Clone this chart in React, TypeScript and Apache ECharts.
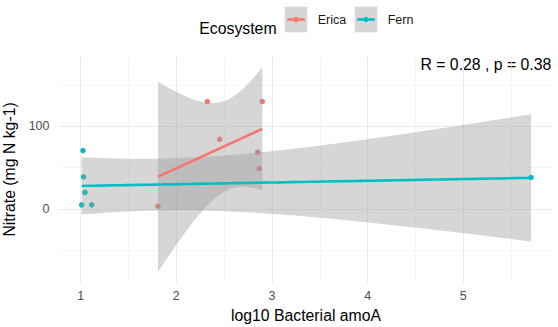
import React, { useEffect, useRef } from "react";
import * as echarts from "echarts";

// ---- data ----
const ericaX = [1.808, 2.324, 2.453, 2.851, 2.868, 2.899];
const ericaY = [3.6, 129.8, 84.3, 68.7, 49.0, 129.8];
const fernX = [1.024, 1.03, 1.045, 1.01, 1.115, 5.708];
const fernY = [70.7, 38.9, 20.1, 5.2, 5.2, 38.2];
const groups = ["Erica", "Fern"];
const xTicks = [1, 2, 3, 4, 5];
const xMinor = [1.5, 2.5, 3.5, 4.5, 5.5];
const yTicks = [0, 100];
const yMinor = [-50, 50, 150];
const annotation = "R = 0.28 , p = 0.38";
const legendTitle = "Ecosystem";
const xTitle = "log10 Bacterial amoA";
const yTitle = "Nitrate (mg N kg-1)";

// ---- styling ----
const COLORS = ["#F8766D", "#00BFC4"];
const FONT = "'Liberation Sans', Arial, sans-serif";
const T_975_DF4 = 2.7764; // t quantile for 95% CI, n = 6

// linear model fit + 95% confidence band (as geom_smooth(method = "lm"))
function lmBand(xs: number[], ys: number[], steps = 80) {
  const n = xs.length;
  const mx = xs.reduce((a, b) => a + b, 0) / n;
  const my = ys.reduce((a, b) => a + b, 0) / n;
  let sxx = 0;
  let sxy = 0;
  for (let i = 0; i < n; i++) {
    sxx += (xs[i] - mx) ** 2;
    sxy += (xs[i] - mx) * (ys[i] - my);
  }
  const slope = sxy / sxx;
  const icpt = my - slope * mx;
  let sse = 0;
  for (let i = 0; i < n; i++) sse += (ys[i] - (icpt + slope * xs[i])) ** 2;
  const s = Math.sqrt(sse / (n - 2));
  const x0 = Math.min(...xs);
  const x1 = Math.max(...xs);
  const fit: number[][] = [];
  const upper: number[][] = [];
  const lower: number[][] = [];
  for (let i = 0; i < steps; i++) {
    const x = x0 + ((x1 - x0) * i) / (steps - 1);
    const y = icpt + slope * x;
    const se = s * Math.sqrt(1 / n + (x - mx) ** 2 / sxx);
    fit.push([x, y]);
    upper.push([x, y + T_975_DF4 * se]);
    lower.push([x, y - T_975_DF4 * se]);
  }
  return { fit, upper, lower };
}

export default function App() {
  const ref = useRef<HTMLDivElement>(null);
  useEffect(() => {
    if (!ref.current) return;
    const chart = echarts.init(ref.current, null, { renderer: "svg" });
    const sets = [
      { x: ericaX, y: ericaY },
      { x: fernX, y: fernY },
    ];
    const bands = sets.map((s) => lmBand(s.x, s.y));

    const series: any[] = [];
    // gridlines
    series.push({
      type: "line",
      data: [],
      silent: true,
      z: 0,
      markLine: {
        silent: true,
        z: 0,
        symbol: "none",
        label: { show: false },
        animation: false,
        data: [
          ...xTicks.map((v) => ({ xAxis: v, lineStyle: { color: "#EBEBEB", width: 1.1, type: "solid" } })),
          ...xMinor.map((v) => ({ xAxis: v, lineStyle: { color: "#F0F0F0", width: 0.6, type: "solid" } })),
          ...yTicks.map((v) => ({ yAxis: v, lineStyle: { color: "#EBEBEB", width: 1.1, type: "solid" } })),
          ...yMinor.map((v) => ({ yAxis: v, lineStyle: { color: "#F0F0F0", width: 0.6, type: "solid" } })),
        ],
      },
    });
    // points
    sets.forEach((s, i) => {
      series.push({
        name: groups[i],
        type: "scatter",
        data: s.x.map((x, j) => [x, s.y[j]]),
        symbolSize: 5.5,
        itemStyle: { color: COLORS[i], opacity: 1 },
        z: 2,
        silent: true,
      });
    });
    // ribbons and lines
    bands.forEach((b, i) => {
      series.push({
        type: "custom",
        coordinateSystem: "cartesian2d",
        data: [[b.fit[0][0], b.fit[0][1]]],
        silent: true,
        z: 3,
        renderItem: (_p: any, api: any) => {
          const pts = [
            ...b.upper.map((p) => api.coord(p)),
            ...b.lower
              .slice()
              .reverse()
              .map((p) => api.coord(p)),
          ];
          return {
            type: "polygon",
            shape: { points: pts },
            style: { fill: "rgba(153,153,153,0.4)", stroke: "none" },
          };
        },
      });
      series.push({
        type: "line",
        data: b.fit,
        showSymbol: false,
        silent: true,
        z: 4,
        lineStyle: { color: COLORS[i], width: 2.6 },
      });
    });

    const keyW = 22.6;
    const keyH = 25.6;
    const keyTop = 6.7;
    const keyXs = [284.7, 354.7];
    const legendGraphics: any[] = [
      {
        type: "text",
        left: 199.3,
        top: 20.5,
        style: {
          text: legendTitle,
          font: `15.8px ${FONT}`,
          fill: "#000",
          verticalAlign: "middle",
        },
      },
    ];
    groups.forEach((g, i) => {
      const kx = keyXs[i];
      const cy = keyTop + keyH / 2;
      legendGraphics.push(
        {
          type: "rect",
          shape: { x: kx, y: keyTop, width: keyW, height: keyH },
          style: { fill: "#D6D6D6" },
        },
        {
          type: "line",
          shape: { x1: kx + 2.5, y1: cy, x2: kx + keyW - 2.5, y2: cy },
          style: { stroke: COLORS[i], lineWidth: 2.6 },
        },
        {
          type: "circle",
          shape: { cx: kx + keyW / 2, cy, r: 2.7 },
          style: { fill: COLORS[i] },
        },
        {
          type: "text",
          x: kx + keyW + 10.4,
          y: cy,
          style: {
            text: g,
            font: `12.5px ${FONT}`,
            fill: "#1A1A1A",
            verticalAlign: "middle",
            align: "left",
          },
        }
      );
    });

    chart.setOption({
      animation: false,
      backgroundColor: "#FFFFFF",
      grid: {
        left: 58.5,
        right: 4.5,
        top: 56.7,
        bottom: 44.8,
        containLabel: false,
        outerBoundsMode: "none",
      },
      xAxis: {
        type: "value",
        min: 0.768,
        max: 5.943,
        axisLine: { show: false },
        axisTick: { show: false },
        splitLine: { show: false },
        axisLabel: {
          customValues: xTicks,
          color: "#4D4D4D",
          fontSize: 12.5,
          fontFamily: FONT,
          margin: 7,
        },
        name: xTitle,
        nameLocation: "middle",
        nameGap: 23,
        nameTextStyle: { color: "#000", fontSize: 15.8, fontFamily: FONT },
      },
      yAxis: {
        type: "value",
        min: -88.1,
        max: 183.9,
        axisLine: { show: false },
        axisTick: { show: false },
        splitLine: { show: false },
        axisLabel: {
          customValues: yTicks,
          color: "#4D4D4D",
          fontSize: 12.5,
          fontFamily: FONT,
          margin: 9,
        },
        name: yTitle,
        nameLocation: "middle",
        nameGap: 28,
        nameTextStyle: { color: "#000", fontSize: 15.8, fontFamily: FONT },
      },
      graphic: [
        ...legendGraphics,
        {
          type: "text",
          right: 6.7,
          top: 56.5,
          style: {
            text: annotation,
            font: `15.8px ${FONT}`,
            fill: "#000",
          },
        },
      ],
      series,
    });
    return () => chart.dispose();
  }, []);
  return (
    <div
      ref={ref}
      style={{ position: "fixed", left: 0, top: 0, width: 558, height: 327 }}
    />
  );
}
